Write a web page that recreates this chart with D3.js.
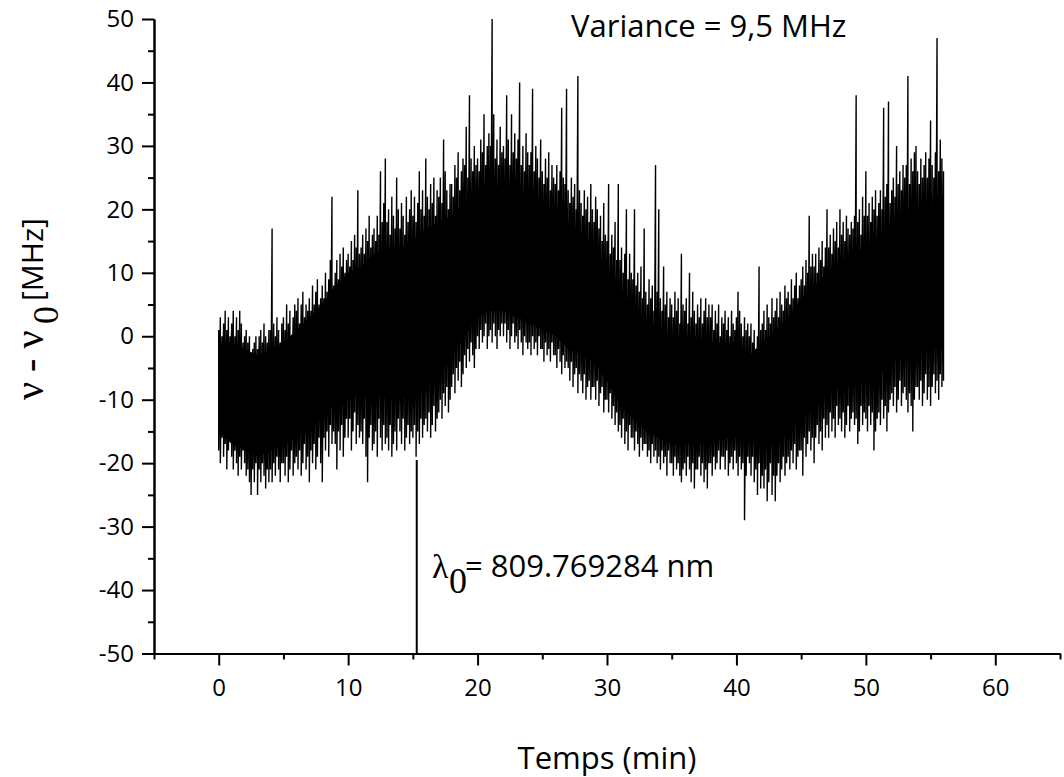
<!DOCTYPE html>
<html lang="en">

<head>
    <meta charset="UTF-8">
    <title>Frequency drift over time</title>
    <script src="https://d3js.org/d3.v7.min.js"></script>
    <style>
        body {
            margin: 0;
            background: #fff;
        }

        .axis .domain,
        .axis .tick line {
            stroke: #000;
            stroke-width: 2;
        }

        .axis .tick text {
            font-family: "Open Sans", sans-serif;
            font-size: 24px;
            fill: #000;
        }

        .label {
            font-family: "Open Sans", sans-serif;
            font-size: 31px;
            fill: #000;
        }

        .greek {
            font-family: "Liberation Serif", "DejaVu Serif", serif;
            fill: #000;
        }
    </style>
</head>

<body>
    <div id="chart"></div>

    <script>
        // sampling of the trace (minutes between two samples), t = 0 .. 56
        var timeStep = 0.125;

        // tips of the noise, upper side (MHz), 8 samples per minute
        var upperTips = [
            1, 3, 0, 2, 4, 1, 3, 0, 2, 4, 0, 3, 1, 4, 2, -1,
            0, 1, -1, 0, -3, -2, -1, 0, -2, 0, 1, -1, 2, 0, -1, 1,
            1, 17, 2, 0, 3, 1, -1, 2, 3, 1, 5, 2, 4, 0, 3, 5,
            4, 6, 2, 5, 7, 3, 5, 4, 6, 4, 8, 5, 7, 9, 5, 6,
            8, 6, 10, 7, 9, 12, 22, 8, 10, 12, 9, 13, 11, 14, 10, 12,
            13, 11, 15, 12, 16, 14, 23, 13, 14, 16, 13, 17, 15, 19, 14, 16,
            17, 15, 19, 16, 26, 18, 21, 28, 18, 20, 16, 22, 19, 17, 25, 20,
            17, 21, 19, 16, 22, 18, 20, 23, 19, 22, 18, 21, 26, 20, 23, 19,
            28, 22, 20, 24, 21, 25, 19, 23, 22, 25, 21, 31, 26, 23, 20, 24,
            24, 22, 27, 25, 29, 23, 26, 28, 27, 33, 25, 38, 28, 26, 30, 27,
            28, 26, 31, 29, 35, 27, 30, 32, 30, 50, 35, 28, 31, 27, 33, 29,
            30, 28, 38, 31, 27, 35, 29, 32, 28, 31, 40, 27, 30, 26, 32, 29,
            27, 29, 39, 26, 30, 28, 25, 31, 26, 24, 28, 25, 29, 23, 27, 25,
            24, 27, 23, 26, 36, 25, 24, 39, 23, 21, 25, 22, 24, 20, 41, 23,
            21, 19, 23, 20, 22, 18, 24, 20, 18, 22, 20, 17, 19, 15, 21, 16,
            15, 24, 13, 16, 14, 18, 12, 24, 12, 14, 10, 13, 20, 9, 13, 10,
            9, 20, 8, 10, 7, 11, 6, 17, 7, 5, 9, 6, 8, 4, 27, 7,
            20, 6, 4, 11, 5, 7, 3, 6, 5, 3, 7, 4, 6, 2, 13, 5,
            4, 6, 2, 10, 3, 7, 4, 2, 5, 3, 6, 2, 4, 6, 3, 5,
            3, 5, 1, 4, 2, 5, 0, 3, 2, 4, 1, 3, 0, 4, 2, 1,
            3, 7, 4, 2, 0, 3, 1, 2, 0, 2, -1, 1, -2, 0, 11, 1,
            2, 4, 1, 5, 3, 2, 6, 3, 4, 6, 3, 7, 5, 4, 8, 6,
            7, 5, 9, 6, 8, 10, 6, 8, 9, 11, 8, 12, 10, 19, 11, 13,
            11, 13, 10, 14, 12, 15, 11, 14, 20, 14, 16, 13, 17, 15, 18, 14,
            20, 16, 18, 15, 19, 17, 16, 18, 17, 19, 38, 18, 20, 16, 22, 19,
            26, 19, 21, 18, 22, 20, 23, 19, 21, 23, 20, 36, 22, 24, 37, 21,
            23, 25, 22, 30, 24, 26, 23, 27, 25, 27, 41, 24, 28, 26, 29, 30,
            26, 24, 28, 25, 27, 29, 25, 28, 34, 27, 25, 29, 47, 26, 31, 28,
            26
        ];

        // tips of the noise, lower side (MHz)
        var lowerTips = [
            -18, -20, -16, -19, -17, -21, -18, -16, -19, -21, -18, -20, -22, -19, -21, -18,
            -20, -22, -21, -23, -25, -21, -23, -20, -25, -21, -23, -20, -22, -24, -21, -23,
            -21, -23, -20, -22, -19, -21, -23, -20, -20, -22, -19, -23, -21, -18, -22, -20,
            -19, -21, -18, -22, -20, -17, -21, -19, -23, -18, -20, -17, -21, -19, -16, -20,
            -23, -16, -18, -15, -19, -14, -17, -15, -17, -21, -15, -18, -14, -19, -16, -13,
            -16, -13, -18, -15, -12, -17, -14, -16, -15, -17, -13, -19, -23, -16, -14, -18,
            -17, -15, -19, -13, -16, -18, -14, -17, -16, -18, -14, -19, -17, -15, -18, -13,
            -15, -17, -13, -18, -16, -14, -17, -15, -16, -14, -19, -15, -17, -13, -16, -14,
            -13, -15, -12, -16, -14, -11, -15, -13, -12, -10, -13, -9, -11, -8, -12, -10,
            -8, -6, -9, -5, -7, -4, -8, -6, -3, -5, -2, -4, -1, -3, -5, -2,
            0, -2, 1, -1, 0, 2, -2, 0, 1, -1, 2, 0, -2, 1, 0, 2,
            0, 2, -1, 1, -2, 0, 2, -1, 0, -2, 1, -1, -3, 0, -1, -2,
            -1, -3, 0, -2, -1, -3, 0, -2, -2, -4, -1, -3, -2, -4, -1, -3,
            -3, -5, -2, -4, -6, -3, -5, -4, -5, -7, -4, -8, -6, -5, -9, -6,
            -7, -9, -6, -10, -8, -7, -10, -8, -8, -10, -7, -11, -9, -8, -12, -10,
            -10, -12, -9, -13, -11, -14, -12, -15, -14, -16, -13, -17, -15, -18, -14, -16,
            -16, -18, -15, -17, -19, -16, -18, -17, -17, -19, -18, -20, -17, -19, -18, -20,
            -19, -21, -18, -20, -19, -22, -18, -20, -20, -22, -19, -21, -20, -22, -23, -21,
            -20, -22, -19, -21, -23, -20, -24, -21, -21, -19, -22, -20, -23, -21, -24, -20,
            -20, -22, -19, -21, -20, -18, -21, -19, -19, -21, -18, -22, -20, -19, -21, -18,
            -20, -22, -19, -21, -20, -29, -22, -19, -20, -22, -19, -23, -21, -25, -20, -24,
            -22, -24, -21, -26, -23, -20, -25, -22, -26, -22, -20, -23, -21, -19, -22, -20,
            -19, -21, -18, -20, -17, -21, -19, -18, -18, -22, -16, -19, -17, -15, -18, -16,
            -20, -16, -14, -17, -15, -18, -13, -16, -14, -16, -12, -15, -13, -16, -11, -14,
            -13, -15, -12, -16, -14, -11, -15, -13, -12, -14, -13, -17, -15, -11, -14, -12,
            -13, -15, -11, -14, -12, -18, -15, -13, -12, -14, -10, -13, -11, -15, -12, -10,
            -9, -11, -8, -12, -10, -7, -11, -9, -8, -10, -12, -9, -11, -15, -10, -8,
            -8, -10, -7, -11, -9, -6, -10, -8, -11, -8, -6, -9, -7, -10, -6, -8,
            -7
        ];

        // dense (solid) part of the band, one value per minute
        var coreTime = d3.range(0, 57, 1);
        var coreHigh = [-1, -1, -2, -3, -2, -1, 1, 3, 5, 8, 10, 11, 13, 14, 14, 15, 17, 18, 19, 21,
            22, 23, 23, 22, 21, 19, 18, 16, 14, 11, 9, 6, 3, 2, 1, 0, 0, 0, -1, -1,
            -1, -3, -1, 1, 3, 6, 8, 10, 11, 13, 14, 16, 18, 19, 19, 20, 20];
        var coreLow = [-15, -17, -18, -19, -18, -17, -16, -15, -12, -11, -10, -9, -9, -10, -10, -9, -8, -6, -3, 0,
            3, 4, 4, 3, 2, 1, 0, -2, -3, -4, -7, -11, -13, -15, -16, -17, -17, -17, -17, -16,
            -16, -16, -16, -15, -14, -12, -10, -9, -8, -8, -7, -6, -4, -3, -3, -2, -1];

        // reference wavelength marker
        var markerTime = 15.3;
        var markerFrom = -19.5;

        var xTicks = [0, 10, 20, 30, 40, 50, 60];
        var xMinor = [-5, 5, 15, 25, 35, 45, 55, 65];
        var yTicks = [-50, -40, -30, -20, -10, 0, 10, 20, 30, 40, 50];
        var yMinor = [-45, -35, -25, -15, -5, 5, 15, 25, 35, 45];

        var svg = d3.select("#chart")
            .append("svg")
            .attr("width", 1064)
            .attr("height", 777);

        var x = d3.scaleLinear().domain([-5, 65]).range([154, 1060]);
        var y = d3.scaleLinear().domain([-50, 50]).range([653.5, 19]);

        // solid core of the noise band
        var core = coreTime.map(function (t, i) { return { t: t, lo: coreLow[i], hi: coreHigh[i] }; });
        svg.append("path")
            .datum(core)
            .attr("fill", "#000")
            .attr("d", d3.area()
                .x(function (d) { return x(d.t); })
                .y0(function (d) { return y(d.lo); })
                .y1(function (d) { return y(d.hi); }));

        // noise trace: up and down at each sample
        var pts = [];
        upperTips.forEach(function (v, i) {
            var t = i * timeStep;
            pts.push([x(t), y(v)]);
            pts.push([x(t), y(lowerTips[i])]);
        });
        svg.append("path")
            .attr("fill", "none")
            .attr("stroke", "#000")
            .attr("stroke-width", 1.4)
            .attr("d", d3.line()(pts));

        // marker line down to the axis
        svg.append("line")
            .attr("x1", x(markerTime)).attr("x2", x(markerTime))
            .attr("y1", y(markerFrom)).attr("y2", y(-50))
            .attr("stroke", "#000")
            .attr("stroke-width", 2);

        // axes (plain hyphen for negatives, as in the original)
        var plain = function (d) { return String(d); };

        svg.append("g")
            .attr("class", "axis")
            .attr("transform", "translate(0," + y(-50) + ")")
            .call(d3.axisBottom(x).tickValues(xMinor).tickSize(6).tickFormat("").tickSizeOuter(0));
        svg.append("g")
            .attr("class", "axis")
            .attr("transform", "translate(0," + y(-50) + ")")
            .call(d3.axisBottom(x).tickValues(xTicks).tickSize(12).tickPadding(13).tickSizeOuter(0).tickFormat(plain));

        svg.append("g")
            .attr("class", "axis")
            .attr("transform", "translate(" + x(-5) + ",0)")
            .call(d3.axisLeft(y).tickValues(yMinor).tickSize(6).tickFormat("").tickSizeOuter(0));
        svg.append("g")
            .attr("class", "axis")
            .attr("transform", "translate(" + x(-5) + ",0)")
            .call(d3.axisLeft(y).tickValues(yTicks).tickSize(12).tickPadding(8).tickSizeOuter(0).tickFormat(plain));

        // axis titles
        svg.append("text")
            .attr("class", "label")
            .attr("x", 607)
            .attr("y", 769)
            .attr("text-anchor", "middle")
            .text("Temps (min)");

        var yTitle = svg.append("g").attr("transform", "rotate(-90)");
        yTitle.append("text")
            .attr("class", "greek")
            .attr("x", -400).attr("y", 43)
            .style("font-size", "40px")
            .text("ν - ν");
        yTitle.append("text")
            .attr("class", "greek")
            .attr("x", -324).attr("y", 58)
            .style("font-size", "36px")
            .text("0");
        yTitle.append("text")
            .attr("class", "label")
            .attr("x", -301).attr("y", 43)
            .style("font-size", "30px")
            .text("[MHz]");

        // annotations
        svg.append("text")
            .attr("class", "label")
            .attr("x", 571)
            .attr("y", 37)
            .text("Variance = 9,5 MHz");

        svg.append("text")
            .attr("class", "greek")
            .attr("x", 432).attr("y", 578)
            .style("font-size", "34px")
            .text("λ");
        svg.append("text")
            .attr("class", "greek")
            .attr("x", 449).attr("y", 593)
            .style("font-size", "36px")
            .text("0");
        svg.append("text")
            .attr("class", "label")
            .attr("x", 465).attr("y", 577)
            .text("= 809.769284 nm");
    </script>
</body>

</html>
